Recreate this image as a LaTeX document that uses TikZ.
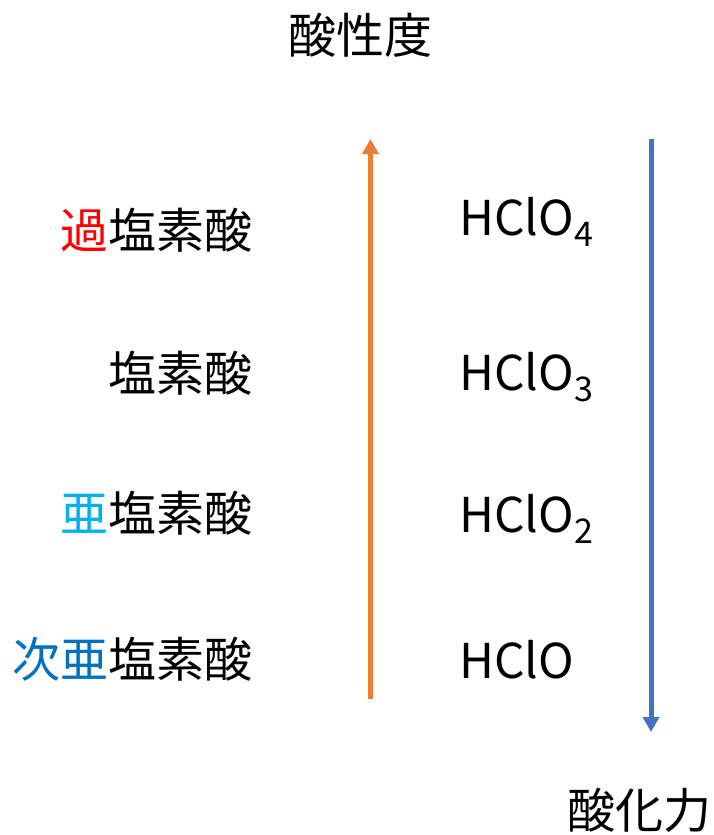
\documentclass[tikz,border=0pt]{standalone}
\usepackage{fontspec}
\setmainfont{Noto Sans CJK JP}
\usetikzlibrary{arrows.meta}
\definecolor{cOrange}{HTML}{ED7D31}
\definecolor{cBlue}{HTML}{4472C4}
\definecolor{cRed}{HTML}{FF0000}
\definecolor{cSky}{HTML}{00B0F0}
\definecolor{cDeep}{HTML}{0070C0}
\newcommand{\bigtxt}{\fontsize{48}{58}\selectfont}
\newcommand{\subdig}[1]{\raisebox{-11pt}{\fontsize{34}{34}\selectfont #1}}
\begin{document}
\begin{tikzpicture}[x=1pt,y=-1pt,
  lbl/.style={inner sep=0pt, anchor=east, font=\bigtxt},
  fml/.style={inner sep=0pt, anchor=base west, font=\bigtxt},
  ttl/.style={inner sep=0pt, font=\bigtxt},
  arr/.style={line width=5pt, -{Triangle[length=15pt,width=16pt]}}]
\useasboundingbox (0,0) rectangle (714,835);
\node[ttl] (title) at (360,35) {酸性度};
\node[ttl] (oxid) at (639,810) {酸化力};
\node[lbl] (l1) at (253,230) {\textcolor{cRed}{過}塩素酸};
\node[lbl] (l2) at (253,373.5) {塩素酸};
\node[lbl] (l3) at (253,513) {\textcolor{cSky}{亜}塩素酸};
\node[lbl] (l4) at (253,659) {\textcolor{cDeep}{次亜}塩素酸};
\node[fml] (f1) at (459,235) {HClO\subdig{4}};
\node[fml] (f2) at (459,390) {HClO\subdig{3}};
\node[fml] (f3) at (459,532) {HClO\subdig{2}};
\node[fml] (f4) at (459,678) {HClO};
\coordinate (oA) at (370.5,699);
\coordinate (oB) at (370.5,139);
\coordinate (bA) at (651,139);
\coordinate (bB) at (651,732);
\draw[arr, cOrange] (oA) -- (oB);
\draw[arr, cBlue] (bA) -- (bB);
\end{tikzpicture}
\end{document}
